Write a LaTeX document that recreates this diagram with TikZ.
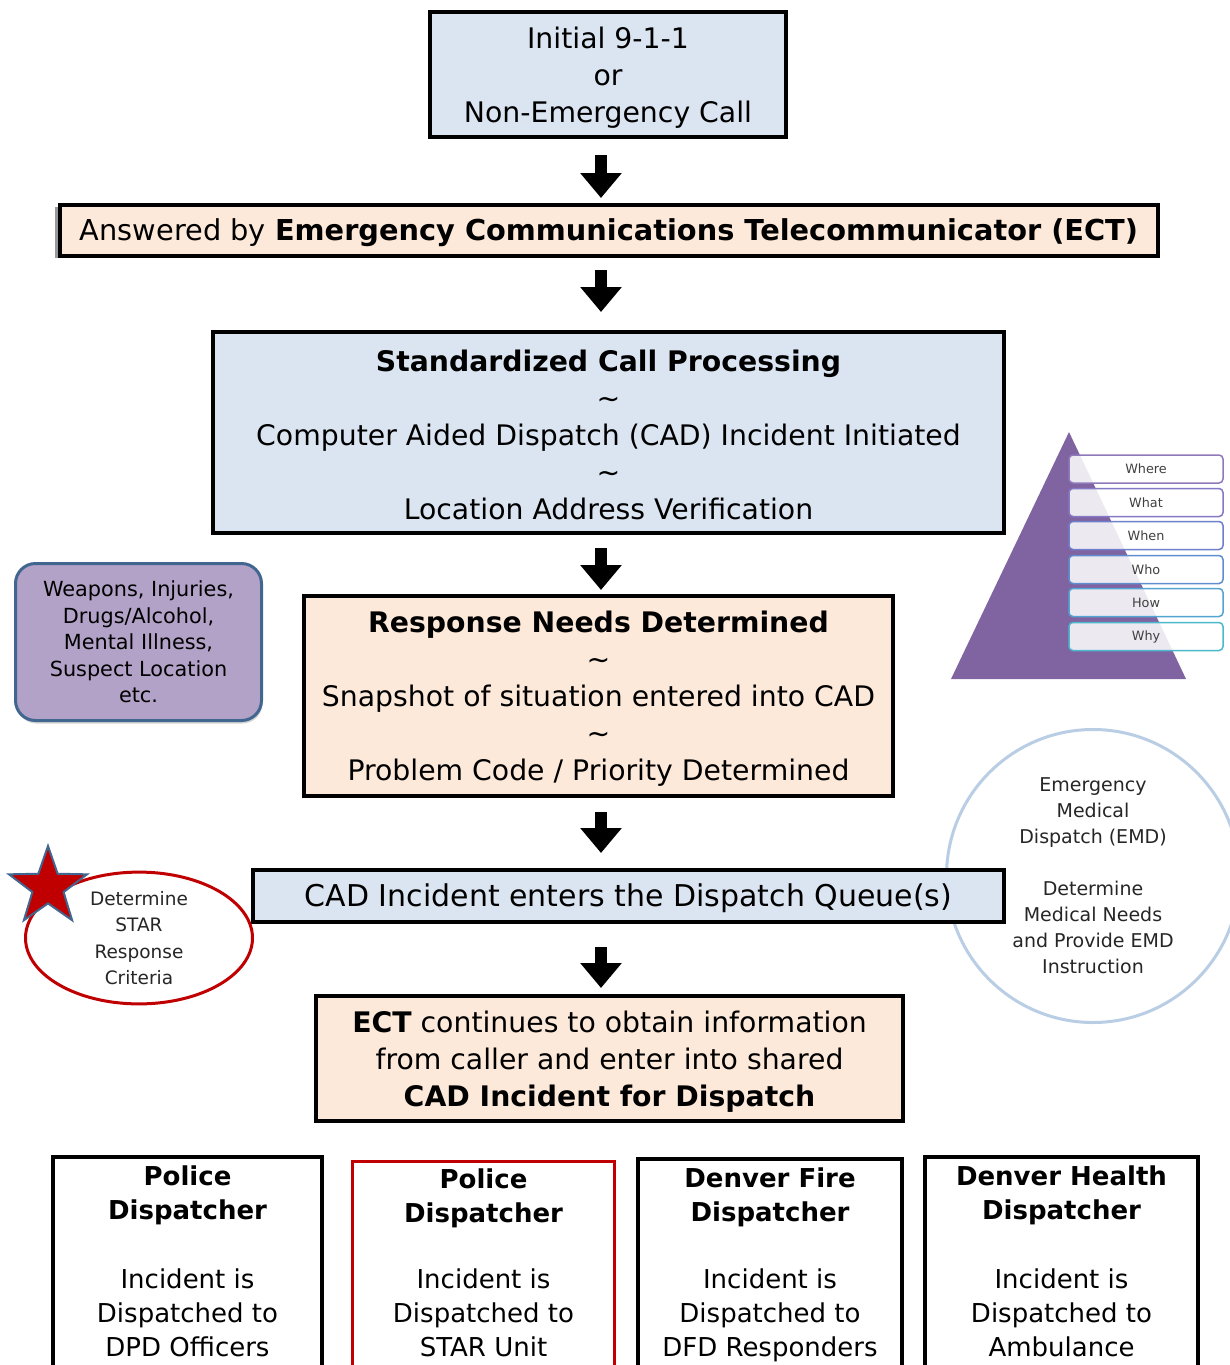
\documentclass[tikz,border=0pt]{standalone}
\usepackage{fontspec}
\setmainfont{DejaVu Sans}
\usetikzlibrary{arrows.meta,shapes.geometric,shadows}
\definecolor{boxblue}{HTML}{DBE5F1}
\definecolor{boxpeach}{HTML}{FDE9D9}
\definecolor{lav}{HTML}{B3A2C7}
\definecolor{lavedge}{HTML}{41668F}
\definecolor{pyr}{HTML}{8064A2}
\definecolor{starred}{HTML}{C00000}
\definecolor{emdblue}{HTML}{B9CDE5}
\definecolor{txtgray}{HTML}{262626}
\definecolor{barA}{HTML}{9079BA}
\definecolor{barB}{HTML}{8379C4}
\definecolor{barC}{HTML}{6E7FCB}
\definecolor{barD}{HTML}{5F8ED0}
\definecolor{barE}{HTML}{53A4D3}
\definecolor{barF}{HTML}{4BB8CC}
\newcommand{\topstrut}{\rule{0pt}{27pt}}
\begin{document}
\begin{tikzpicture}[x=1pt,y=-1pt,
  mainbox/.style={draw=black, line width=4pt, align=center, inner sep=0pt,
    font=\fontsize{28.3}{37}\selectfont},
  bluebox/.style={mainbox, fill=boxblue},
  peachbox/.style={mainbox, fill=boxpeach},
  flowarrow/.style={line width=12pt, -{Triangle[width=40pt,length=25pt]}},
  dispbox/.style={draw=black, line width=4pt, fill=white, anchor=north, minimum height=240pt, inner sep=0pt},
  starbox/.style={dispbox, draw=starred, line width=3pt},
  disptext/.style={anchor=north, align=center, inner sep=0pt, font=\fontsize{26}{34}\selectfont},
  qbar/.style={rounded corners=4pt, fill=white, fill opacity=0.86, text opacity=1, line width=1.5pt,
    minimum width=154pt, minimum height=28pt, inner sep=0pt, text=black!75, font=\fontsize{12.8}{14}\selectfont},
  sidetext/.style={align=center, text=txtgray}
]
\clip (0,0) rectangle (1230,1365);

% EMD circle (behind the queue box)
\node[circle, draw=emdblue, line width=3pt, fill=white, minimum size=293pt, inner sep=0pt,
  sidetext, font=\fontsize{19}{26}\selectfont] (emd) at (1093,876)
  {Emergency\\Medical\\Dispatch (EMD)\\[26pt]Determine\\Medical Needs\\and Provide EMD\\Instruction};

% main flow
\node[bluebox, minimum width=356pt, minimum height=125pt] (call) at (608,74.5)
  {\topstrut Initial 9-1-1\\or\\Non-Emergency Call};
\node[peachbox, minimum width=1098pt, minimum height=51pt, font=\fontsize{28.8}{37}\selectfont,
  drop shadow={shadow xshift=-5pt, shadow yshift=-2pt, fill=black!40, opacity=1}] (ecta) at (609,230.5)
  {\topstrut Answered by \textbf{Emergency Communications Telecommunicator (ECT)}};
\node[bluebox, minimum width=791pt, minimum height=201pt] (proc) at (608.5,432.5)
  {\topstrut\textbf{Standardized Call Processing}\\\textasciitilde\\Computer Aided Dispatch (CAD) Incident Initiated\\\textasciitilde\\Location Address Verification};
\node[peachbox, minimum width=589pt, minimum height=200pt] (resp) at (598.5,696)
  {\topstrut\textbf{Response Needs Determined}\\\textasciitilde\\Snapshot of situation entered into CAD\\\textasciitilde\\Problem Code / Priority Determined};
\node[bluebox, minimum width=751pt, minimum height=52pt, font=\fontsize{30}{37}\selectfont] (queue) at (628.5,896)
  {\topstrut CAD Incident enters the Dispatch Queue(s)};
\node[peachbox, minimum width=587pt, minimum height=125pt] (ect) at (609.5,1058.5)
  {\topstrut\textbf{ECT} continues to obtain information\\from caller and enter into shared\\\textbf{CAD Incident for Dispatch}};

% arrows
\coordinate (ax) at (601,0);
\draw[flowarrow, shorten <=16pt, shorten >=5pt] (call.south -| ax) -- (ecta.north -| ax);
\draw[flowarrow, shorten <=12pt, shorten >=18pt] (ecta.south -| ax) -- (proc.north -| ax);
\draw[flowarrow, shorten <=13pt, shorten >=4pt] (proc.south -| ax) -- (resp.north -| ax);
\draw[flowarrow, shorten <=14pt, shorten >=15pt] (resp.south -| ax) -- (queue.north -| ax);
\draw[flowarrow, shorten <=23pt, shorten >=6pt] (queue.south -| ax) -- (ect.north -| ax);

% dispatcher boxes
\node[dispbox, minimum width=269pt] (pd1) at (187.5,1155) {};
\node[starbox, minimum width=262pt] (pd2) at (483.5,1159.5) {};
\node[dispbox, minimum width=264pt] (dfd) at (770,1157) {};
\node[dispbox, minimum width=273pt] (dh) at (1061.5,1155) {};
\node[disptext] (pd1t) at (187.5,1166) {\textbf{Police}\\\textbf{Dispatcher}\\[35pt]Incident is\\Dispatched to\\DPD Officers};
\node[disptext] (pd2t) at (483.5,1169) {\textbf{Police}\\\textbf{Dispatcher}\\[32pt]Incident is\\Dispatched to\\STAR Unit};
\node[disptext] (dfdt) at (770,1168) {\textbf{Denver Fire}\\\textbf{Dispatcher}\\[33pt]Incident is\\Dispatched to\\DFD Responders};
\node[disptext] (dht) at (1061.5,1166) {\textbf{Denver Health}\\\textbf{Dispatcher}\\[35pt]Incident is\\Dispatched to\\Ambulance};

% purple info box
\node[draw=lavedge, line width=3pt, fill=lav, rounded corners=20pt, minimum width=246pt, minimum height=157pt,
  inner sep=0pt, align=center, font=\fontsize{20.8}{26.5}\selectfont,
  drop shadow={shadow xshift=1pt, shadow yshift=-3pt, opacity=0.35}] (info) at (138.5,642)
  {Weapons, Injuries,\\Drugs/Alcohol,\\Mental Illness,\\Suspect Location\\etc.};

% STAR ellipse and star
\node[ellipse, draw=starred, line width=3pt, fill=white, minimum width=227pt, minimum height=111pt,
  inner sep=0pt, sidetext, font=\fontsize{18.5}{26.3}\selectfont] (crit) at (139,938)
  {Determine\\STAR\\Response\\Criteria};
\node[star, star points=5, star point ratio=2.5, minimum size=82pt, inner sep=0pt,
  fill=starred, draw=lavedge, line width=2pt] (starmark) at (48,887) {};

% pyramid
\fill[pyr] (1069,432) -- (951,679) -- (1186,679) -- cycle;
\node[qbar, draw=barA] (q1) at (1146,469) {Where};
\node[qbar, draw=barB] (q2) at (1146,502.5) {What};
\node[qbar, draw=barC] (q3) at (1146,535.5) {When};
\node[qbar, draw=barD] (q4) at (1146,569.5) {Who};
\node[qbar, draw=barE] (q5) at (1146,602.5) {How};
\node[qbar, draw=barF] (q6) at (1146,636.5) {Why};
\end{tikzpicture}
\end{document}
